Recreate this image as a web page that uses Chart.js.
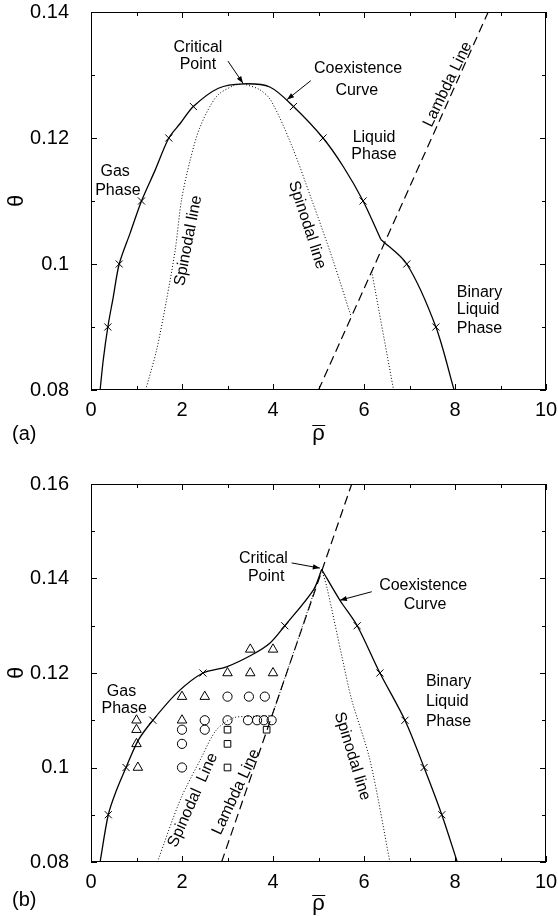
<!DOCTYPE html>
<html><head><meta charset="utf-8">
<script src="https://cdn.jsdelivr.net/npm/chart.js@4.4.1/dist/chart.umd.min.js"></script>
<style>
body{margin:0;background:#fff;}
#wrap{position:relative;width:558px;height:916px;background:#fff;}
.pane{position:absolute;left:0;width:558px;height:458px;}
</style></head>
<body>
<div id="wrap">
  <div class="pane" style="top:0"><canvas id="c1" width="558" height="458"></canvas></div>
  <div class="pane" style="top:458px"><canvas id="c2" width="558" height="458"></canvas></div>
</div>
<script>
const FONT = '"Liberation Sans", Arial, Helvetica, sans-serif';

// ---- tick labels ----
const xTicks = [0, 2, 4, 6, 8, 10];
const aThetaTicks = [0.08, 0.10, 0.12, 0.14];
const bThetaTicks = [0.08, 0.10, 0.12, 0.14, 0.16];

// ---- panel (a) ----
const aCoexLeft = [[0.2,0.08],[0.27,0.0848],[0.37,0.09],[0.49,0.0948],[0.62,0.10],[0.86,0.1049],[1.11,0.11],[1.41,0.1149],[1.71,0.12],[1.96,0.1223],[2.25,0.125],[2.8,0.1279],[3.35,0.1286],[3.93,0.1281],[4.45,0.125],[5.1,0.12],[5.55,0.1154],[5.98,0.11],[6.37,0.1039]];
const aCoexRight = [[6.37,0.1039],[6.94,0.10],[7.58,0.09],[7.98,0.08]];
const aCoexMarks = [[0.37,0.09],[0.62,0.10],[1.11,0.11],[1.71,0.12],[2.25,0.125],[4.45,0.125],[5.1,0.12],[5.98,0.11],[6.94,0.10],[7.58,0.09]];
const aSpinLeft = [[1.2,0.08],[1.44,0.0863],[1.66,0.0943],[1.85,0.1022],[1.99,0.1102],[2.18,0.1165],[2.4,0.1218],[2.76,0.1266],[3.13,0.1283],[3.35,0.1286]];
const aSpinRight = [[3.35,0.1286],[3.7,0.1277],[3.95,0.126],[4.4,0.119],[4.85,0.1102],[5.3,0.101],[5.72,0.0916]];
const aSpinLow = [[6.17,0.0988],[6.65,0.08]];
const aLambda = [[5.0,0.08],[8.73,0.14]];

// ---- panel (b) ----
const bCoexLeft = [[0.2,0.08],[0.38,0.09],[0.56,0.0952],[0.77,0.10],[1.04,0.1058],[1.36,0.11],[1.9,0.1159],[2.46,0.12],[2.98,0.1213],[3.53,0.1238],[3.93,0.1263],[4.26,0.13],[4.89,0.1376],[5.07,0.1419]];
const bCoexRight = [[5.07,0.1419],[5.47,0.1354],[5.85,0.13],[6.35,0.12],[6.9,0.11],[7.32,0.10],[7.71,0.09],[8.05,0.08]];
const bCoexMarks = [[0.38,0.09],[0.77,0.10],[1.36,0.11],[2.46,0.12],[4.26,0.13],[5.85,0.13],[6.35,0.12],[6.9,0.11],[7.32,0.10],[7.71,0.09]];
const bSpinLeft = [[1.46,0.08],[1.96,0.0931],[2.4,0.1016],[2.76,0.108],[3.13,0.1105],[3.5,0.1108],[3.98,0.111]];
const bSpinOnLambda = [[3.98,0.111],[5.07,0.1419]];
const bSpinRight = [[5.07,0.1419],[5.18,0.1383],[5.53,0.1228],[5.73,0.1143],[6.13,0.1016],[6.57,0.08]];
const bLambda = [[2.87,0.08],[5.73,0.16]];
const bTriangles = [[1,0.11],[1,0.108],[1,0.105],[1.03,0.10],[2,0.115],[2.5,0.115],[2,0.11],[3,0.12],[3.5,0.12],[4,0.12],[3.5,0.125],[4,0.125]];
const bCircles = [[2,0.108],[2,0.105],[2,0.10],[2.5,0.11],[2.5,0.108],[3,0.115],[3.47,0.115],[3.82,0.115],[3,0.11],[3.45,0.11],[3.65,0.11],[3.8,0.11],[3.97,0.11]];
const bSquares = [[3,0.108],[3,0.105],[3,0.10],[3.86,0.108]];

const pts = a => a.map(p => ({x: p[0], y: p[1]}));

function lineDS(data, dash, width) {
  return {data: pts(data), showLine: true, pointRadius: 0, borderColor: '#000',
    borderWidth: width, borderDash: dash, tension: 0.3, fill: false};
}
function markDS(data, style, r) {
  return {data: pts(data), showLine: false, pointStyle: style, pointRadius: r,
    borderColor: '#000', backgroundColor: 'rgba(0,0,0,0)', borderWidth: 1};
}

const SOLID = [], DOT = [1, 2], DASH = [9, 5];

const framePlugin = {
  id: 'frame',
  afterDatasetsDraw(chart, args, o) {
    const ctx = chart.ctx, a = chart.chartArea, sx = chart.scales.x, sy = chart.scales.y;
    ctx.save();
    ctx.strokeStyle = '#000'; ctx.fillStyle = '#000'; ctx.lineWidth = 1;
    ctx.strokeRect(Math.round(a.left) + 0.5, Math.round(a.top) + 0.5,
      Math.round(a.right - a.left) - 1, Math.round(a.bottom - a.top) - 1);
    const tick = (vals, minor) => {
      const L = minor ? 4 : 6;
      vals.forEach(v => {
        const px = Math.round(sx.getPixelForValue(v)) + 0.5;
        ctx.beginPath(); ctx.moveTo(px, a.bottom); ctx.lineTo(px, a.bottom - L);
        ctx.moveTo(px, a.top); ctx.lineTo(px, a.top + L); ctx.stroke();
      });
    };
    const tickY = (vals, minor) => {
      const L = minor ? 4 : 6;
      vals.forEach(v => {
        const py = Math.round(sy.getPixelForValue(v)) + 0.5;
        ctx.beginPath(); ctx.moveTo(a.left, py); ctx.lineTo(a.left + L, py);
        ctx.moveTo(a.right, py); ctx.lineTo(a.right - L, py); ctx.stroke();
      });
    };
    const mids = t => t.slice(1).map((v, i) => (v + t[i]) / 2);
    tick(o.xt, false); tick(mids(o.xt), true);
    tickY(o.yt, false); tickY(mids(o.yt), true);

    // notes
    const P = (x, y) => [sx.getPixelForValue(x), sy.getPixelForValue(y)];
    ctx.textBaseline = 'middle';
    (o.notes || []).forEach(n => {
      const [px, py] = P(n.x, n.y);
      ctx.save();
      ctx.font = '16px ' + FONT;
      ctx.textAlign = n.align || 'center';
      ctx.translate(px, py);
      if (n.rot) ctx.rotate(n.rot * Math.PI / 180);
      ctx.fillText(n.text, 0, 0);
      ctx.restore();
    });
    (o.arrows || []).forEach(ar => {
      const [x1, y1] = P(ar[0], ar[1]);
      const [x2, y2] = P(ar[2], ar[3]);
      const ang = Math.atan2(y2 - y1, x2 - x1);
      ctx.beginPath(); ctx.moveTo(x1, y1); ctx.lineTo(x2, y2); ctx.stroke();
      const h = 7, w = 2.6;
      ctx.beginPath();
      ctx.moveTo(x2, y2);
      ctx.lineTo(x2 - h * Math.cos(ang) + w * Math.sin(ang), y2 - h * Math.sin(ang) - w * Math.cos(ang));
      ctx.lineTo(x2 - h * Math.cos(ang) - w * Math.sin(ang), y2 - h * Math.sin(ang) + w * Math.cos(ang));
      ctx.closePath(); ctx.fill();
    });
    // axis titles and panel tag
    const cx = (a.left + a.right) / 2, cy = (a.top + a.bottom) / 2;
    ctx.save();
    ctx.font = '22px ' + FONT; ctx.textAlign = 'center';
    ctx.translate(17, cy); ctx.rotate(-Math.PI / 2); ctx.fillText('\u03B8', 0, 0);
    ctx.restore();
    ctx.font = '22px ' + FONT; ctx.textAlign = 'center'; ctx.textBaseline = 'alphabetic';
    ctx.fillText('\u03C1', cx, o.rhoBase);
    const rw = ctx.measureText('\u03C1').width;
    ctx.beginPath();
    ctx.moveTo(cx - rw / 2, o.rhoBase - 14.5); ctx.lineTo(cx + rw / 2 + 0.5, o.rhoBase - 14.5);
    ctx.stroke();
    ctx.textBaseline = 'middle';
    ctx.font = '20px ' + FONT; ctx.textAlign = 'left';
    ctx.fillText(o.tag, 12, o.tagY);
    ctx.restore();
  }
};

function makeChart(id, datasets, yTicks, ymin, ymax, padTop, xH, frame) {
  return new Chart(document.getElementById(id), {
    type: 'scatter',
    data: {datasets},
    options: {
      responsive: false, animation: false, events: [], devicePixelRatio: 1,
      layout: {padding: {top: padTop, right: 12, left: 0, bottom: 0}},
      plugins: {legend: {display: false}, tooltip: {enabled: false}, frame},
      scales: {
        x: {type: 'linear', min: 0, max: 10,
          grid: {display: false}, border: {display: false},
          ticks: {color: '#000', font: {size: 20, family: FONT}, padding: 0},
          afterBuildTicks: s => { s.ticks = xTicks.map(v => ({value: v})); },
          afterFit: s => { s.height = xH; s.paddingLeft = 0; s.paddingRight = 0; }},
        y: {type: 'linear', min: ymin, max: ymax,
          grid: {display: false}, border: {display: false},
          ticks: {color: '#000', font: {size: 20, family: FONT}, padding: 14,
            callback: v => String(Number(v.toFixed(3)))},
          afterBuildTicks: s => { s.ticks = yTicks.map(v => ({value: v})); },
          afterFit: s => { s.width = 91; s.paddingTop = 0; s.paddingBottom = 0; }}
      }
    },
    plugins: [framePlugin]
  });
}

makeChart('c1', [
  lineDS(aCoexLeft, SOLID, 1.3),
  lineDS(aCoexRight, SOLID, 1.3),
  markDS(aCoexMarks, 'crossRot', 5),
  lineDS(aSpinLeft, DOT, 1),
  lineDS(aSpinRight, DOT, 1),
  lineDS(aSpinLow, DOT, 1),
  lineDS(aLambda, DASH, 1.2)
], aThetaTicks, 0.08, 0.14, 12, 68, {
  xt: xTicks, yt: aThetaTicks, rhoBase: 440, tag: '(a)', tagY: 434,
  notes: [
    {text: 'Critical', x: 2.35, y: 0.1344},
    {text: 'Point', x: 2.35, y: 0.1316},
    {text: 'Coexistence', x: 5.87, y: 0.1310},
    {text: 'Curve', x: 5.84, y: 0.1276},
    {text: 'Liquid', x: 6.22, y: 0.1200},
    {text: 'Phase', x: 6.22, y: 0.1174},
    {text: 'Lambda Line', x: 7.84, y: 0.1285, rot: -64},
    {text: 'Gas', x: 0.53, y: 0.1147},
    {text: 'Phase', x: 0.59, y: 0.1117},
    {text: 'Spinodal line', x: 2.14, y: 0.1037, rot: -79},
    {text: 'Spinodal line', x: 4.75, y: 0.1062, rot: 72},
    {text: 'Binary', x: 8.04, y: 0.0954, align: 'left'},
    {text: 'Liquid', x: 8.04, y: 0.0927, align: 'left'},
    {text: 'Phase', x: 8.04, y: 0.0898, align: 'left'}
  ],
  arrows: [[3.01, 0.1322, 3.34, 0.1287], [4.83, 0.1291, 4.31, 0.1261]]
});

makeChart('c2', [
  lineDS(bCoexLeft, SOLID, 1.3),
  lineDS(bCoexRight, SOLID, 1.3),
  markDS(bCoexMarks, 'crossRot', 5),
  lineDS(bSpinLeft, DOT, 1),
  lineDS(bSpinOnLambda, DOT, 1),
  lineDS(bSpinRight, DOT, 1),
  lineDS(bLambda, DASH, 1.2),
  markDS(bTriangles, 'triangle', 5.5),
  markDS(bCircles, 'circle', 4.6),
  markDS(bSquares, 'rect', 4.7)
], bThetaTicks, 0.08, 0.16, 26, 54, {
  xt: xTicks, yt: bThetaTicks, rhoBase: 452, tag: '(b)', tagY: 442,
  notes: [
    {text: 'Critical', x: 3.79, y: 0.1443},
    {text: 'Point', x: 3.85, y: 0.1404},
    {text: 'Coexistence', x: 7.30, y: 0.1386},
    {text: 'Curve', x: 7.34, y: 0.1344},
    {text: 'Gas', x: 0.67, y: 0.1160},
    {text: 'Phase', x: 0.73, y: 0.1125},
    {text: 'Binary', x: 7.36, y: 0.1182, align: 'left'},
    {text: 'Liquid', x: 7.36, y: 0.1139, align: 'left'},
    {text: 'Phase', x: 7.36, y: 0.1097, align: 'left'},
    {text: 'Spinodal line', x: 5.74, y: 0.1024, rot: 73},
    {text: 'Spinodal  Line', x: 2.24, y: 0.0931, rot: -66},
    {text: 'Lambda Line', x: 3.19, y: 0.0948, rot: -65}
  ],
  arrows: [[4.41, 0.1433, 5.03, 0.1422], [6.17, 0.1372, 5.47, 0.1354]]
});
</script>
</body></html>
